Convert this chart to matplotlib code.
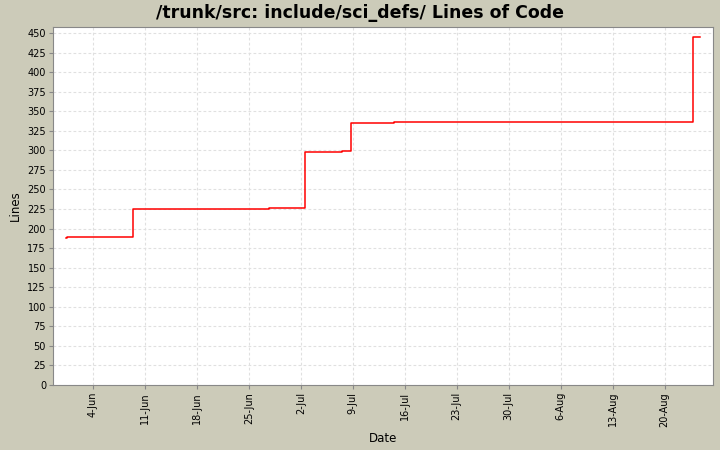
from datetime import datetime

import matplotlib.pyplot as plt

# revision dates and line counts
dates = [
    "2008-05-31 10:00", "2008-05-31 12:00", "2008-06-09 08:00",
    "2008-06-27 16:00", "2008-07-02 15:00", "2008-07-07 14:00",
    "2008-07-08 18:00", "2008-07-14 12:00", "2008-08-23 18:00",
    "2008-08-24 17:00",
]
lines = [188, 189, 225, 226, 298, 299, 335, 336, 445, 445]

tick_dates = ["2008-06-04", "2008-06-11", "2008-06-18", "2008-06-25",
              "2008-07-02", "2008-07-09", "2008-07-16", "2008-07-23",
              "2008-07-30", "2008-08-06", "2008-08-13", "2008-08-20"]
tick_labels = ["4-Jun", "11-Jun", "18-Jun", "25-Jun", "2-Jul", "9-Jul",
               "16-Jul", "23-Jul", "30-Jul", "6-Aug", "13-Aug", "20-Aug"]
y_ticks = list(range(0, 451, 25))


def main():
    """draw the lines of code chart"""
    bg = "#cccbb9"
    x = [datetime.strptime(d, "%Y-%m-%d %H:%M") for d in dates]
    ticks = [datetime.strptime(d, "%Y-%m-%d") for d in tick_dates]

    fig = plt.figure(figsize=(7.2, 4.5), dpi=100, facecolor=bg)
    ax = fig.add_axes([0.0736, 0.1444, 0.917, 0.7963])
    ax.set_facecolor("white")

    ax.plot(x, lines, drawstyle="steps-post", color="#ff0000", linewidth=1.1)

    ax.set_xlim(datetime(2008, 5, 29, 15), datetime(2008, 8, 26, 13))
    ax.set_ylim(0, 458)
    ax.set_yticks(y_ticks)
    ax.set_xticks(ticks)
    ax.set_xticklabels(tick_labels, rotation=90)

    ax.grid(True, color="#e0e0e0", linestyle=(0, (2.5, 2)), linewidth=0.8)
    ax.set_axisbelow(True)
    for s in ax.spines.values():
        s.set_color("#888888")
    ax.tick_params(axis="both", labelsize=7, length=3, color="#888888",
                   pad=2)

    ax.set_xlabel("Date", fontsize=8.5)
    ax.set_ylabel("Lines", fontsize=8.5)
    fig.suptitle("/trunk/src: include/sci_defs/ Lines of Code",
                 fontsize=12.5, fontweight="bold", y=0.992)

    fig.savefig("out.png", dpi=100, facecolor=bg)


if __name__ == "__main__":
    main()
